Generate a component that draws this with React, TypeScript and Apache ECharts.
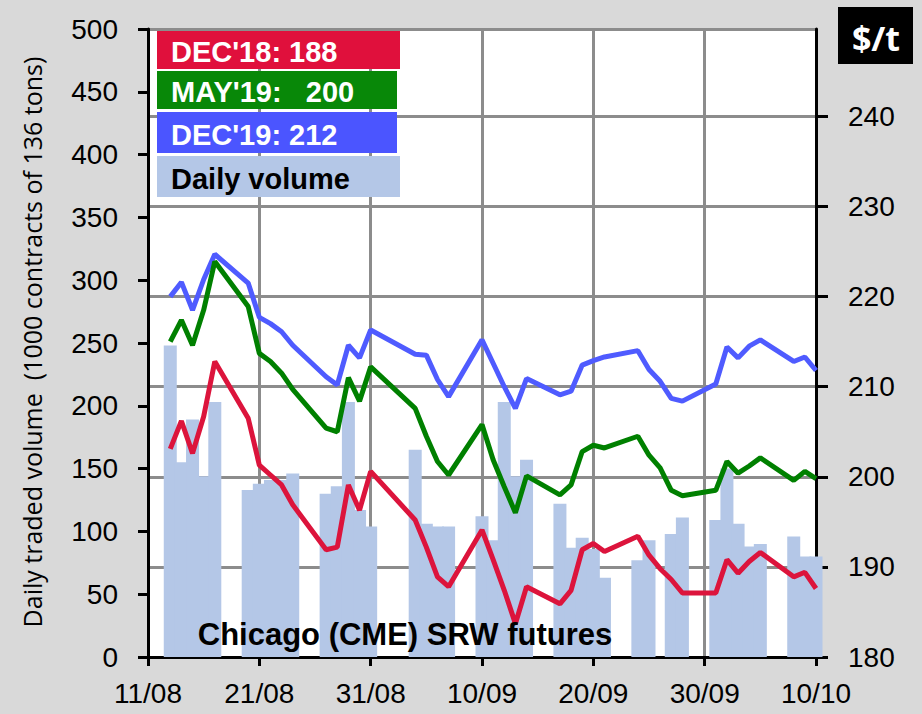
import React, { useEffect, useRef } from "react";
import * as echarts from "echarts";

// day offsets from 11/08/2018 of each trading day
const tradeDays = [2, 3, 4, 5, 6, 9, 10, 11, 12, 13, 16, 17, 18, 19, 20, 24, 25, 26, 27, 30, 31, 32, 33, 34, 37, 38, 39, 40, 41, 44, 45, 46, 47, 48, 51, 52, 53, 54, 55, 58, 59, 60];
const xTickLabels = ["11/08", "21/08", "31/08", "10/09", "20/09", "30/09", "10/10"];

const volume = [248, 155, 189, 144, 203, 133, 138, 141, 141, 146, 130, 136, 203, 117, 104, 165, 106, 104, 104, 112, 93, 203, 144, 157, 122, 87, 95, 86, 63, 77, 93, null, 98, 111, 109, 150, 106, 88, 90, 96, 80, 80];
const dec18 = [203.1, 206.2, 202.6, 206.7, 212.8, 206.5, 201.3, 200.2, 199.1, 196.9, 191.9, 192.2, 199.1, 196.3, 200.6, 195.2, 192.2, 188.9, 187.8, 194.1, 190.8, 187.4, 183.7, 187.8, 185.9, 187.4, 191.9, 192.6, 191.7, 193.4, 191.3, 189.8, 188.6, 187.1, 187.1, 190.8, 189.3, 190.6, 191.6, 188.9, 189.4, 187.6];
const may19 = [215.0, 217.4, 214.6, 218.5, 223.9, 218.9, 213.7, 212.8, 211.5, 209.7, 205.4, 205.0, 211.0, 208.4, 212.2, 207.6, 204.5, 201.7, 200.2, 205.8, 201.9, 198.9, 196.0, 200.1, 198.0, 199.1, 202.8, 203.5, 203.2, 204.5, 202.4, 201.0, 198.5, 197.9, 198.5, 201.7, 200.4, 201.2, 202.1, 199.6, 200.6, 199.8];
const dec19 = [220.0, 221.6, 218.5, 221.9, 224.7, 221.5, 217.7, 217.0, 216.1, 214.6, 211.1, 210.2, 214.6, 213.2, 216.3, 213.6, 213.5, 210.8, 208.9, 215.2, 212.6, 210.0, 207.6, 210.9, 209.1, 209.5, 212.4, 212.9, 213.3, 214.0, 211.9, 210.6, 208.7, 208.4, 210.3, 214.4, 213.2, 214.5, 215.2, 212.8, 213.3, 211.8];

const legendLabels = ["DEC'18: 188", "MAY'19:   200", "DEC'19: 212", "Daily volume"];
const yTitle = "Daily traded volume  (1000 contracts of 136 tons)";
const unitLabel = "$/t";
const noteLabel = "Chicago (CME) SRW futures";

const RED = "#dc143c";
const GREEN = "#008000";
const BLUE = "#4f5bff";
const BAR = "#b4c7e7";
const GRIDC = "#8c8c8c";
const FONT = "'Liberation Sans', Arial, sans-serif";

export default function App() {
  const ref = useRef<HTMLDivElement>(null);
  useEffect(() => {
    const chart = echarts.init(ref.current!, null, { renderer: "svg" });
    const pair = (arr: (number | null)[]) => tradeDays.map((d, i) => [d, arr[i]]);
    const legendBoxes = [
      { y: 31, h: 38, w: 243, fill: "#e0103c", color: "#fff" },
      { y: 71, h: 38, w: 240, fill: "#088808", color: "#fff" },
      { y: 112, h: 41, w: 240, fill: "#4b55ff", color: "#fff" },
      { y: 156, h: 41, w: 243, fill: BAR, color: "#000" },
    ];
    const graphics: any[] = [];
    legendBoxes.forEach((b, i) => {
      graphics.push({ type: "rect", z: 100, shape: { x: 157, y: b.y, width: b.w, height: b.h }, style: { fill: b.fill } });
      graphics.push({
        type: "text", z: 101, x: 171, y: b.y + b.h / 2 + 2,
        style: { text: legendLabels[i], fill: b.color, font: `bold 29px ${FONT}`, textVerticalAlign: "middle" },
      });
    });
    graphics.push({ type: "rect", z: 100, shape: { x: 838, y: 7, width: 75, height: 57 }, style: { fill: "#000" } });
    graphics.push({ type: "text", z: 101, x: 876, y: 38, style: { text: unitLabel, fill: "#fff", font: `bold 34px 'Open Sans', ${FONT}`, textAlign: "center", textVerticalAlign: "middle" } });
    graphics.push({ type: "text", z: 101, x: 405, y: 634, style: { text: noteLabel, fill: "#000", font: `bold 31px ${FONT}`, textAlign: "center", textVerticalAlign: "middle" } });
    graphics.push({
      type: "text", z: 101, x: 32, y: 342, rotation: Math.PI / 2,
      style: { text: yTitle, fill: "#000", font: `25px 'Open Sans', Lato, sans-serif`, textAlign: "center", textVerticalAlign: "middle" },
    });

    chart.setOption({
      animation: false,
      backgroundColor: "#d9d9d9",
      grid: { left: 148, right: 106, top: 29, bottom: 57, show: true, backgroundColor: "#fff", borderWidth: 0, containLabel: false },
      xAxis: {
        type: "value", min: 0, max: 60, interval: 10,
        axisLine: { show: true, onZero: false, lineStyle: { color: "#000", width: 3 } },
        axisTick: { show: true, length: 9, lineStyle: { color: "#000", width: 3 } },
        axisLabel: { margin: 22, color: "#000", fontSize: 28, fontFamily: FONT, formatter: (v: number) => xTickLabels[Math.round(v / 10)] ?? "" },
        splitLine: { show: true, lineStyle: { color: GRIDC, width: 3 } },
      },
      yAxis: [
        {
          type: "value", min: 0, max: 500, interval: 50, position: "left",
          axisLine: { show: true, lineStyle: { color: "#000", width: 3 } },
          axisTick: { show: true, length: 10, lineStyle: { color: "#000", width: 3 } },
          axisLabel: { margin: 30, color: "#000", fontSize: 28, fontFamily: FONT },
          splitLine: { show: false },
        },
        {
          type: "value", min: 180, max: 249.7, interval: 10, position: "right",
          axisLine: { show: true, lineStyle: { color: "#000", width: 3 } },
          axisTick: { show: true, length: 12, lineStyle: { color: "#000", width: 3 } },
          axisLabel: { margin: 32, color: "#000", fontSize: 28, fontFamily: FONT, showMaxLabel: false, formatter: (v: number) => (Math.abs(v % 10) < 1e-6 ? String(v) : "") },
          splitLine: { show: true, lineStyle: { color: GRIDC, width: 3 } },
        },
      ],
      series: [
        { type: "bar", yAxisIndex: 0, data: pair(volume), barWidth: 13, itemStyle: { color: BAR }, clip: true },
        { type: "line", yAxisIndex: 1, data: pair(dec18), symbol: "none", lineStyle: { color: RED, width: 5 } },
        { type: "line", yAxisIndex: 1, data: pair(dec19), symbol: "none", lineStyle: { color: BLUE, width: 5 } },
        { type: "line", yAxisIndex: 1, data: pair(may19), symbol: "none", lineStyle: { color: GREEN, width: 5 } },
      ],
      graphic: graphics,
    });
    return () => chart.dispose();
  }, []);
  return <div ref={ref} style={{ position: "fixed", left: 0, top: 0, width: 922, height: 714 }} />;
}
